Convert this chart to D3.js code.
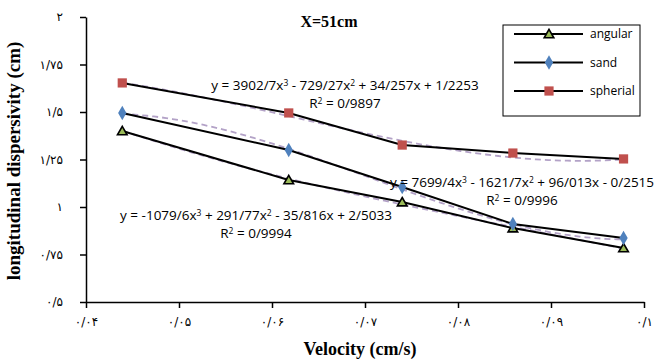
<!DOCTYPE html>
<html>
<head>
<meta charset="utf-8">
<script src="https://cdn.jsdelivr.net/npm/d3@7"></script>
<style>
  body { margin: 0; background: #fff; }
  svg { display: block; }
</style>
</head>
<body>
<svg id="chart" width="662" height="360"></svg>
<script>
// velocities (cm/s)
const velocity = [0.0439, 0.0618, 0.0740, 0.0859, 0.0978];

// longitudinal dispersivity per grain shape
const angular  = [1.40, 1.142, 1.026, 0.889, 0.784];
const sand     = [1.495, 1.30, 1.105, 0.911, 0.837];
const spherial = [1.653, 1.495, 1.326, 1.284, 1.253];

// trendline coefficients (x^3, x^2, x, 1) as shown in the labels
const angularFit  = [-1079.6, 291.77, -35.816, 2.5033];
const sandFit     = [7699.4, -1621.7, 96.013, -0.2515];
const spherialFit = [3902.7, -729.27, 34.257, 1.2253];

const xTicks = [0.04, 0.05, 0.06, 0.07, 0.08, 0.09, 0.1];
const xTickLabels = ["۰/۰۴", "۰/۰۵", "۰/۰۶", "۰/۰۷", "۰/۰۸", "۰/۰۹", "۰/۱"];
const yTicks = [0.5, 0.75, 1, 1.25, 1.5, 1.75, 2];
const yTickLabels = ["۰/۵", "۰/۷۵", "۱", "۱/۲۵", "۱/۵", "۱/۷۵", "۲"];

const svg = d3.select("#chart");

const x = d3.scaleLinear().domain([0.04, 0.1]).range([86, 644]);
const y = d3.scaleLinear().domain([0.5, 2]).range([302, 17]);

// axes
const xAxis = svg.append("g")
    .attr("transform", `translate(0,${y(0.5)})`)
    .call(d3.axisBottom(x).tickValues(xTicks).tickSize(6).tickSizeOuter(0)
        .tickFormat((d, i) => xTickLabels[i]));
const yAxis = svg.append("g")
    .attr("transform", `translate(${x(0.04)},0)`)
    .call(d3.axisLeft(y).tickValues(yTicks).tickSize(6).tickSizeOuter(0)
        .tickFormat((d, i) => yTickLabels[i]));

[xAxis, yAxis].forEach(a => {
    a.select(".domain").attr("stroke", "#000").attr("stroke-width", 1.5);
    a.selectAll(".tick line").attr("stroke", "#000").attr("stroke-width", 1.5);
    a.selectAll("text").attr("font-family", "DejaVu Sans").attr("font-size", "12px").attr("fill", "#000");
});
xAxis.selectAll("text").attr("y", 20).attr("dy", "0.32em");
yAxis.selectAll("text").attr("x", -23);

// trendlines (dashed)
function poly(c, v) { return c[0] * v * v * v + c[1] * v * v + c[2] * v + c[3]; }
const series = [
    { name: "angular", values: angular, fit: angularFit, color: "#9bbb59" },
    { name: "sand", values: sand, fit: sandFit, color: "#4f81bd" },
    { name: "spherial", values: spherial, fit: spherialFit, color: "#c0504d" }
];

const line = d3.line().x(d => x(d[0])).y(d => y(d[1]));

series.forEach(s => {
    const xs = d3.range(velocity[0], velocity[4] + 1e-9, (velocity[4] - velocity[0]) / 80);
    svg.append("path")
        .attr("d", line(xs.map(v => [v, poly(s.fit, v)])))
        .attr("fill", "none")
        .attr("stroke", "#b3a2c7")
        .attr("stroke-width", 1.8)
        .attr("stroke-dasharray", "6,4");
});

series.forEach(s => {
    svg.append("path")
        .attr("d", line(velocity.map((v, i) => [v, s.values[i]])))
        .attr("fill", "none")
        .attr("stroke", "#000")
        .attr("stroke-width", 2);
});

function marker(g, s, cx, cy) {
    if (s.name === "angular") {
        g.append("path").attr("d", d3.symbol().type(d3.symbolTriangle).size(40)())
            .attr("transform", `translate(${cx},${cy + 1})`)
            .attr("fill", s.color).attr("stroke", "#000").attr("stroke-width", 1.6);
    } else if (s.name === "sand") {
        g.append("path").attr("d", d3.symbol().type(d3.symbolDiamond).size(60)())
            .attr("transform", `translate(${cx},${cy})`)
            .attr("fill", s.color);
    } else {
        g.append("path").attr("d", d3.symbol().type(d3.symbolSquare).size(85)())
            .attr("transform", `translate(${cx},${cy})`)
            .attr("fill", s.color);
    }
}

series.forEach(s => {
    const g = svg.append("g");
    velocity.forEach((v, i) => marker(g, s, x(v), y(s.values[i])));
});

// trendline labels
const labelFont = "'Open Sans', sans-serif";
function eqLabel(cx, cy, parts, r2) {
    const t = svg.append("text").attr("x", cx).attr("y", cy)
        .attr("text-anchor", "middle").attr("font-family", labelFont).attr("font-size", "13.5px").attr("fill", "#000");
    parts.forEach(p => {
        if (p === "3" || p === "2") t.append("tspan").attr("font-size", "8.5px").attr("dy", "-4").text(p);
        else if (p.startsWith("^")) t.append("tspan").attr("dy", "4").text(p.slice(1));
        else t.append("tspan").text(p);
    });
    const r = svg.append("text").attr("x", cx).attr("y", cy + 18)
        .attr("text-anchor", "middle").attr("font-family", labelFont).attr("font-size", "13.5px").attr("fill", "#000");
    r.append("tspan").text("R");
    r.append("tspan").attr("font-size", "8.5px").attr("dy", "-4").text("2");
    r.append("tspan").attr("dy", "4").text(" = " + r2);
}
eqLabel(345, 90, ["y = 3902/7x", "3", "^ - 729/27x", "2", "^ + 34/257x + 1/2253"], "0/9897");
eqLabel(522, 187, ["y = 7699/4x", "3", "^ - 1621/7x", "2", "^ + 96/013x - 0/2515"], "0/9996");
eqLabel(256, 220, ["y = -1079/6x", "3", "^ + 291/77x", "2", "^ - 35/816x + 2/5033"], "0/9994");

// title
svg.append("text").attr("x", 329).attr("y", 27).attr("text-anchor", "middle")
    .attr("font-family", "'Liberation Serif', serif").attr("font-weight", "bold").attr("font-size", "16px")
    .text("X=51cm");

// axis titles
svg.append("text").attr("x", 360).attr("y", 355).attr("text-anchor", "middle")
    .attr("font-family", "'Liberation Serif', serif").attr("font-weight", "bold").attr("font-size", "18px")
    .text("Velocity (cm/s)");
svg.append("text").attr("transform", "translate(20,161) rotate(-90)").attr("text-anchor", "middle")
    .attr("font-family", "'Liberation Serif', serif").attr("font-weight", "bold").attr("font-size", "19px")
    .text("longitudinal dispersivity (cm)");

// legend
const lg = svg.append("g");
lg.append("rect").attr("x", 503).attr("y", 25).attr("width", 137).attr("height", 91)
    .attr("fill", "#fff").attr("stroke", "#000").attr("stroke-width", 1);
series.forEach((s, i) => {
    const ly = 34 + i * 28.5;
    lg.append("line").attr("x1", 514).attr("x2", 583).attr("y1", ly).attr("y2", ly)
        .attr("stroke", "#000").attr("stroke-width", 2);
    marker(lg, s, 549, ly);
    lg.append("text").attr("x", 590).attr("y", ly + 4).attr("font-family", labelFont)
        .attr("font-size", "12px").text(s.name);
});
</script>
</body>
</html>
